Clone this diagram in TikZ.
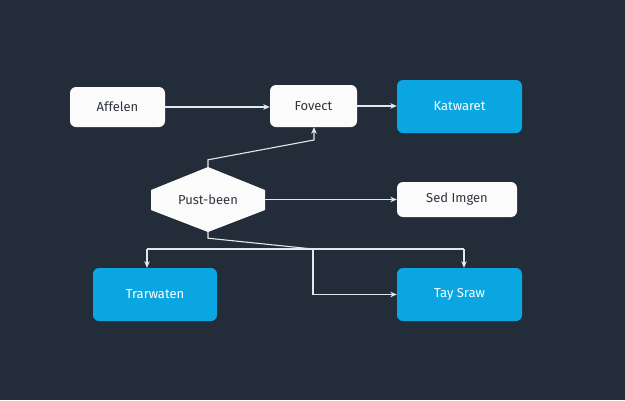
\documentclass[tikz,border=0pt]{standalone}
\usepackage{fontspec}
\setmainfont{Fira Sans}
\usetikzlibrary{arrows.meta}
\definecolor{bgdark}{HTML}{232D3A}
\definecolor{boxblue}{HTML}{0AA6E2}
\definecolor{linegray}{HTML}{E4E8EC}
\definecolor{textdark}{HTML}{30363F}

\begin{document}
\begin{tikzpicture}[x=1pt, y=-1pt,
    every node/.style={font=\fontsize{13}{15}\selectfont},
    whitebox/.style={fill=white!97!gray, text=textdark, rounded corners=6pt, inner sep=0pt},
    bluebox/.style={fill=boxblue, text=white, rounded corners=6pt, inner sep=0pt},
    wire/.style={draw=linegray, line width=1.1pt},
    link/.style={wire, -{Stealth[length=6.5pt,width=5.5pt]}}]
    % --- background ---
    \fill[bgdark] (0,0) rectangle (625,400);
    \useasboundingbox (0,0) rectangle (625,400);

    % --- top row ---
    \node[whitebox, minimum width=95pt, minimum height=40pt] (affelen) at (117.5,107) {Affelen};
    \node[whitebox, minimum width=87pt, minimum height=42pt] (fovect) at (313.5,106) {Fovect};
    \node[bluebox, minimum width=125pt, minimum height=53pt] (katwaret) at (459.5,106.5) {Katwaret};

    % --- decision ---
    \fill[white!97!gray] (208,167) -- (265,190) -- (265,210) -- (208,232) -- (151,210) -- (151,190) -- cycle;
    \node[text=textdark, minimum width=114pt, minimum height=65pt, inner sep=0pt] (pust) at (208,199.5) {Pust-been};
    \node[whitebox, minimum width=120pt, minimum height=35pt] (sedimgen) at (457,199.5) {Sed Imgen};

    % --- bottom row ---
    \node[bluebox, minimum width=124pt, minimum height=53pt] (trarwaten) at (155,294.5) {Trarwaten};
    \node[bluebox, minimum width=125pt, minimum height=53pt] (tayshraw) at (459.5,294.5) {Tay Sraw};

    % --- connectors ---
    \draw[link] (affelen.east) -- (affelen.east -| fovect.west);
    \draw[link] (fovect.east) -- (fovect.east -| katwaret.west);
    \coordinate (upbend) at (314,140);
    \draw[link] (pust.north) -- ++(0,-7) -- (upbend) -- (upbend |- fovect.south);
    \draw[link] (pust.east) -- (pust.east -| sedimgen.west);

    \coordinate (splitpt) at (313,249);
    \coordinate (leftdrop) at (147,249);
    \coordinate (rightdrop) at (464,249);
    \draw[wire] (pust.south) -- ++(0,6) -- (splitpt);
    \draw[wire] (leftdrop) -- (rightdrop);
    \draw[link] (leftdrop) -- (leftdrop |- trarwaten.north);
    \draw[link] (rightdrop) -- (rightdrop |- tayshraw.north);
    \draw[link] (splitpt) |- (tayshraw.west);
\end{tikzpicture}
\end{document}
